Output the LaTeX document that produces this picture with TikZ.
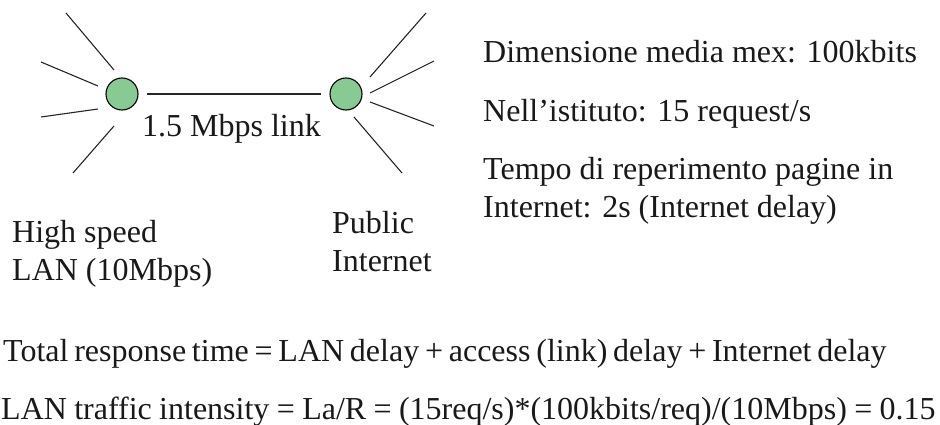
\documentclass[tikz,border=0pt]{standalone}
\usepackage{fontspec}
\usepackage{graphicx}
\setmainfont{Liberation Serif}
\definecolor{hubgreen}{RGB}{136,202,148}
\begin{document}
\begin{tikzpicture}[x=1pt,y=-1pt,
  hub/.style={circle,draw=black,line width=1.1pt,fill=hubgreen,minimum size=32pt,inner sep=0pt},
  spoke/.style={line width=1.1pt,black!85},
  lbl/.style={anchor=base west,inner sep=0pt,font=\fontsize{32}{38.4}\selectfont,text=black!90},
  formula/.style={lbl,execute at begin node={\spaceskip=#1\relax}}]
  \useasboundingbox (0,0) rectangle (940,425);
  % the two routers and the access link
  \node[hub] (lan) at (122,94) {};
  \node[hub] (inet) at (346,94) {};
  \draw[spoke,shorten <=8pt,shorten >=8pt] (lan) -- (inet);
  % LAN-side spokes
  \draw[spoke] (66,13) -- (114,70);
  \draw[spoke] (41,62) -- (98,86);
  \draw[spoke] (41,117) -- (98,109);
  \draw[spoke] (73,173) -- (114,126);
  % Internet-side spokes
  \draw[spoke] (426,13) -- (370,77);
  \draw[spoke] (434,61) -- (370,93);
  \draw[spoke] (370,102) -- (434,126);
  \draw[spoke] (354,117) -- (402,173);
  % labels
  \node[lbl] (link) at (142,137) {1.5 Mbps link};
  \node[lbl] (lan1) at (12,242) {High speed};
  \node[lbl] (lan2) at (12,280) {LAN (10Mbps)};
  \node[lbl] (pub1) at (332,233) {Public};
  \node[lbl] (pub2) at (332,271) {Internet};
  \node[lbl] (d1) at (483,63) {Dimensione media mex: 100kbits};
  \node[lbl] (d2) at (483,122) {Nell’istituto: 15 request/s};
  \node[lbl] (d3) at (483,179) {Tempo di reperimento pagine in};
  \node[lbl] (d4) at (483,217) {Internet: 2s (Internet delay)};
  % formulas
  \node[formula=0.18em] (f1) at (3,361) {Total response time = LAN delay + access (link) delay + Internet delay};
  \node[formula=0.23em] (f2) at (1,419) {LAN traffic intensity = La/R = (15req/s)*(100kbits/req)/(10Mbps) = 0.15};
\end{tikzpicture}
\end{document}
